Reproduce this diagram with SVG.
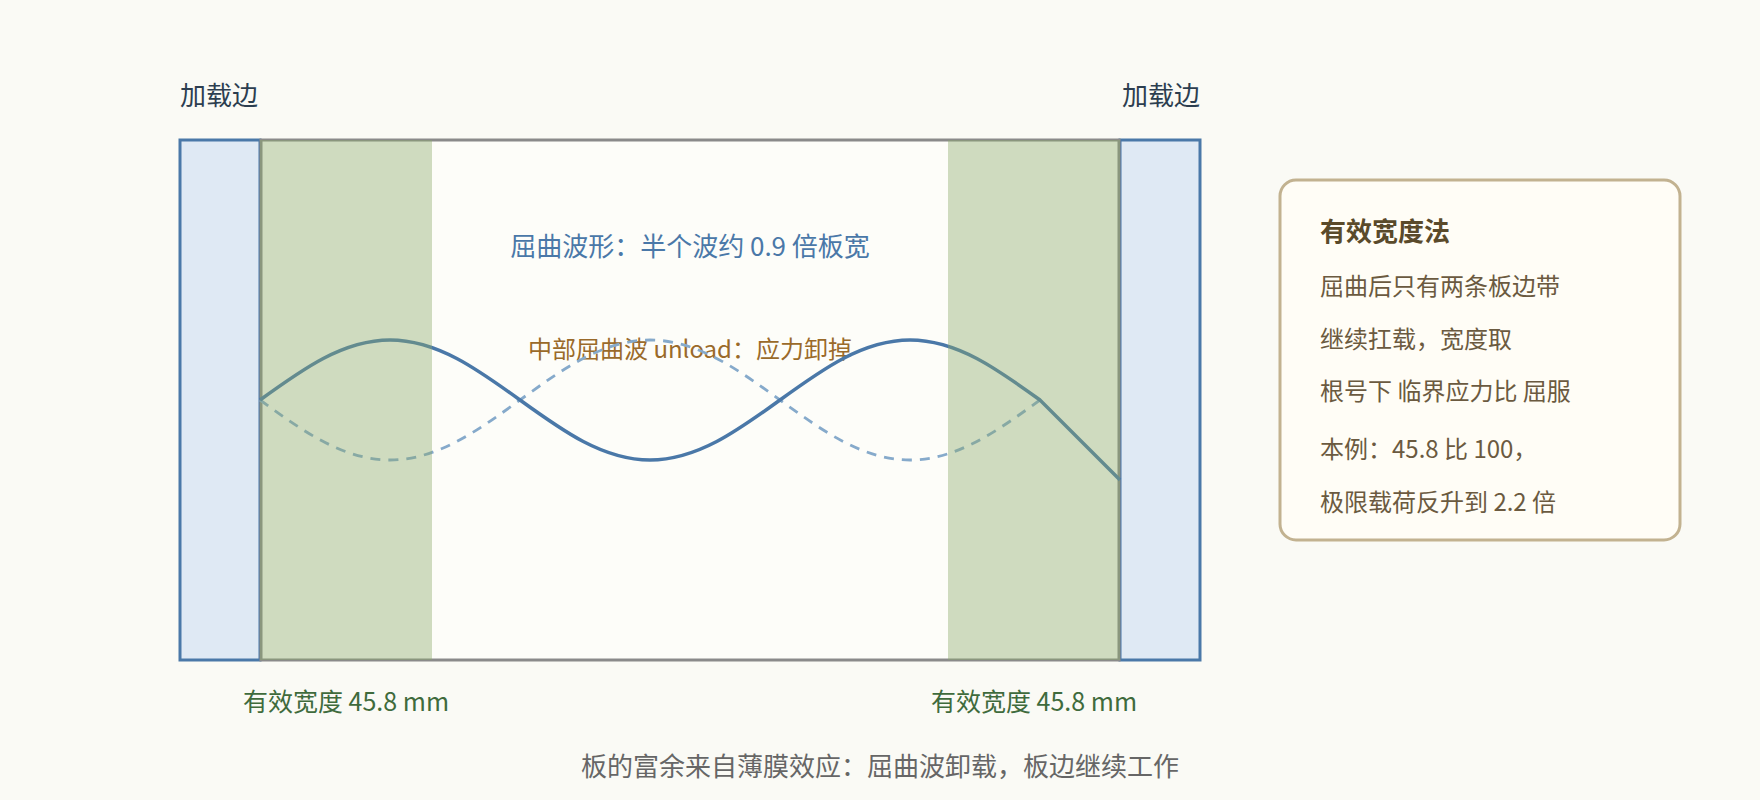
<svg xmlns="http://www.w3.org/2000/svg" width="1760" height="800" viewBox="0 0 1760 800">
<style>
text { font-family: "Noto Sans CJK SC", "Noto Sans", sans-serif; }
.edge-lbl { font-size: 26px; fill: #2c3e50; }
.wave-title { font-size: 26px; fill: #4a78a8; }
.unload { font-size: 24px; fill: #9a6a2a; }
.eff { font-size: 25px; fill: #3f6b3c; }
.caption { font-size: 26px; fill: #666666; }
.p-title { font-size: 26px; font-weight: bold; fill: #5a4a2a; }
.p-line { font-size: 24px; fill: #6b5a40; }
.strip { fill: #dfe9f4; stroke: #4a78a8; stroke-width: 3; }
.band { fill: #8aa86a; fill-opacity: 0.4; }
</style>
<rect x="0" y="0" width="1760" height="800" fill="#fafaf5"/>

<g id="strip-left"><rect class="strip" x="180" y="140" width="80" height="520"/></g>
<g id="strip-right"><rect class="strip" x="1120" y="140" width="80" height="520"/></g>

<g id="plate">
  <rect x="261" y="140" width="858" height="520" fill="#fdfdf9" stroke="#8a8a8a" stroke-width="3"/>
</g>

<g id="labels-inner">
  <text class="wave-title" x="690" y="256" text-anchor="middle">屈曲波形：半个波约 0.9 倍板宽</text>
  <text class="unload" x="690" y="358" text-anchor="middle">中部屈曲波 unload：应力卸掉</text>
</g>

<g id="connectors">
  <path d="M260,400 C302.4,430.7 342.95,460 390,460 C437.05,460 477.6,430.7 520,400 C562.4,369.3 602.95,340 650,340 C697.05,340 737.6,369.3 780,400 C822.4,430.7 862.95,460 910,460 C957.05,460 997.6,430.7 1040,400" fill="none" stroke="#86aacb" stroke-width="2.8" stroke-dasharray="10,8"/>
  <path d="M260,400 C302.4,369.3 342.95,340 390,340 C437.05,340 477.6,369.3 520,400 C562.4,430.7 602.95,460 650,460 C697.05,460 737.6,430.7 780,400 C822.4,369.3 862.95,340 910,340 C957.05,340 997.6,369.3 1040,400 L1120,480" fill="none" stroke="#4a78a8" stroke-width="3.5"/>
</g>

<g id="band-left"><rect class="band" x="260" y="140" width="172" height="520"/></g>
<g id="band-right"><rect class="band" x="948" y="140" width="172" height="520"/></g>

<g id="labels">
  <text class="edge-lbl" x="180" y="105">加载边</text>
  <text class="edge-lbl" x="1200" y="105" text-anchor="end">加载边</text>
  <text class="eff" x="346" y="711" text-anchor="middle">有效宽度 45.8 mm</text>
  <text class="eff" x="1034" y="711" text-anchor="middle">有效宽度 45.8 mm</text>
  <text class="caption" x="880" y="776" text-anchor="middle">板的富余来自薄膜效应：屈曲波卸载，板边继续工作</text>
</g>

<g id="panel">
  <rect x="1280" y="180" width="400" height="360" rx="16" ry="16" fill="#fffdf6" stroke="#c2b290" stroke-width="3"/>
  <text class="p-title" x="1320" y="241">有效宽度法</text>
  <text class="p-line" x="1320" y="295">屈曲后只有两条板边带</text>
  <text class="p-line" x="1320" y="348">继续扛载，宽度取</text>
  <text class="p-line" x="1320" y="400">根号下 临界应力比 屈服</text>
  <text class="p-line" x="1320" y="458">本例：45.8 比 100，</text>
  <text class="p-line" x="1320" y="511">极限载荷反升到 2.2 倍</text>
</g>
</svg>
